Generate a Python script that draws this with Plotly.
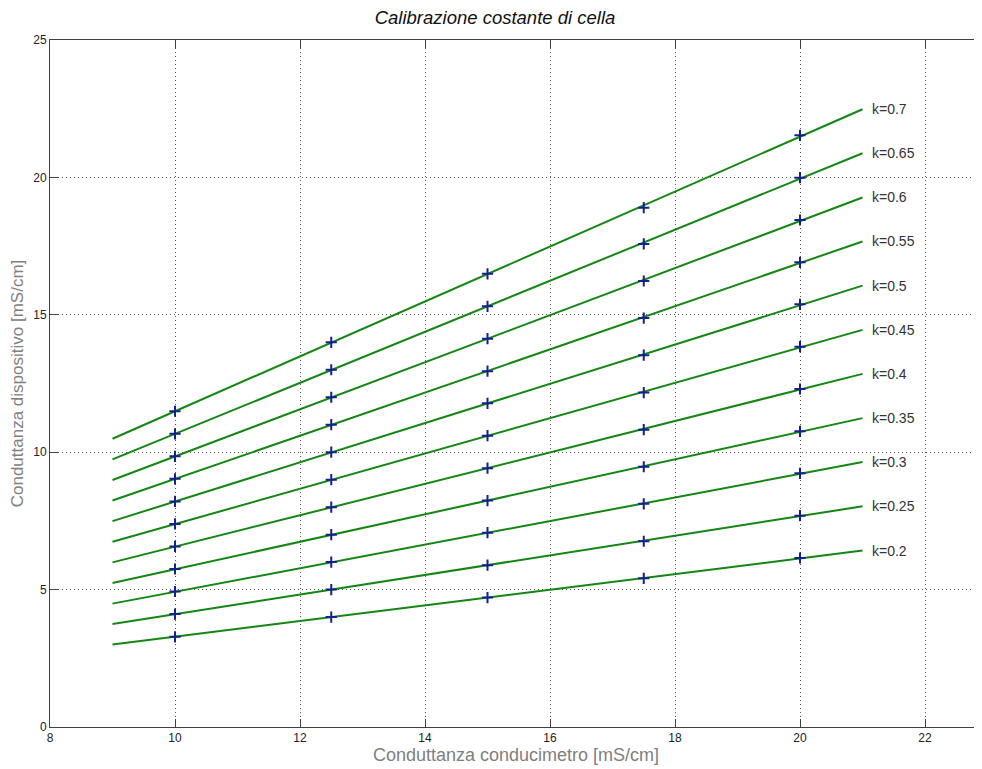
import plotly.graph_objects as go

# ---- data ----
k_values = [0.2, 0.25, 0.3, 0.35, 0.4, 0.45, 0.5, 0.55, 0.6, 0.65, 0.7]
k_labels = ["k=0.2", "k=0.25", "k=0.3", "k=0.35", "k=0.4", "k=0.45",
            "k=0.5", "k=0.55", "k=0.6", "k=0.65", "k=0.7"]

# measured points (conducimetro vs dispositivo)
x_meas = [10, 12.5, 15, 17.5, 20]
y_k020 = [3.28, 4.00, 4.71, 5.41, 6.15]
y_k025 = [4.11, 5.00, 5.89, 6.76, 7.69]
y_k030 = [4.93, 6.00, 7.07, 8.12, 9.23]
y_k035 = [5.75, 7.00, 8.24, 9.47, 10.76]
y_k040 = [6.57, 8.00, 9.42, 10.82, 12.30]
y_k045 = [7.39, 9.00, 10.60, 12.17, 13.84]
y_k050 = [8.21, 10.00, 11.78, 13.53, 15.38]
y_k055 = [9.03, 11.00, 12.95, 14.88, 16.91]
y_k060 = [9.85, 12.00, 14.13, 16.23, 18.45]
y_k065 = [10.67, 13.00, 15.31, 17.58, 19.99]
y_k070 = [11.49, 14.00, 16.49, 18.90, 21.53]
y_meas = [y_k020, y_k025, y_k030, y_k035, y_k040, y_k045,
          y_k050, y_k055, y_k060, y_k065, y_k070]

# fitted calibration lines (endpoints)
x_fit = [9, 21]
y_fit_start = [3.00, 3.75, 4.49, 5.24, 5.99, 6.74, 7.49, 8.24, 8.99, 9.74, 10.49]
y_fit_end = [6.42, 8.03, 9.64, 11.24, 12.85, 14.45, 16.06, 17.67, 19.27, 20.88, 22.48]

x_ticks = [8, 10, 12, 14, 16, 18, 20, 22]
y_ticks = [0, 5, 10, 15, 20, 25]

LINE_COLOR = "#138613"
MARK_COLOR = "#14208c"
FONT = "Liberation Sans, Arial, sans-serif"

fig = go.Figure()

for i, k in enumerate(k_values):
    fig.add_trace(go.Scatter(
        x=x_fit, y=[y_fit_start[i], y_fit_end[i]],
        mode="lines", line=dict(color=LINE_COLOR, width=2),
        showlegend=False, hoverinfo="skip"))

for i, k in enumerate(k_values):
    fig.add_trace(go.Scatter(
        x=x_meas, y=y_meas[i], mode="markers",
        marker=dict(symbol="cross-thin", size=8,
                    line=dict(color=MARK_COLOR, width=2)),
        showlegend=False))

annotations = []
for i, lab in enumerate(k_labels):
    annotations.append(dict(
        x=x_fit[1], y=y_fit_end[i], xref="x", yref="y",
        text=lab, showarrow=False, xanchor="left", yanchor="middle",
        xshift=7, font=dict(family=FONT, size=14, color="#333333")))

# page body has an 8px margin, so the figure is sized to fit the window
fig.update_layout(
    width=974, height=761,
    paper_bgcolor="white", plot_bgcolor="white",
    margin=dict(l=42, r=0, t=32, b=42),
    title=dict(text="<i>Calibrazione costante di cella</i>",
               x=0.5, xanchor="center", y=0.988, yanchor="middle",
               font=dict(family=FONT, size=18.5, color="#111111")),
    annotations=annotations,
    font=dict(family=FONT, size=12, color="#222222"),
)

fig.update_xaxes(
    range=[8, 8 + 932 / 62.5],
    tickvals=x_ticks, ticktext=[str(v) for v in x_ticks],
    ticks="inside", ticklen=8, tickcolor="#404040",
    showline=True, linecolor="#404040", linewidth=1, mirror="ticks",
    showgrid=True, gridcolor="#555555", gridwidth=1, griddash="1px,3px",
    zeroline=False,
    tickfont=dict(family=FONT, size=12, color="#222222"),
    title=dict(text="Conduttanza conducimetro [mS/cm]",
               font=dict(family=FONT, size=18, color="#808080"), standoff=2),
)
fig.update_yaxes(
    range=[0, 25],
    tickvals=y_ticks, ticktext=[str(v) for v in y_ticks],
    ticks="inside", ticklen=8, tickcolor="#404040",
    showline=True, linecolor="#404040", linewidth=1, mirror=False,
    showgrid=True, gridcolor="#555555", gridwidth=1, griddash="1px,3px",
    zeroline=False,
    tickfont=dict(family=FONT, size=12, color="#222222"),
    title=dict(text="Conduttanza dispositivo [mS/cm]",
               font=dict(family=FONT, size=17, color="#808080"), standoff=5),
)

fig.write_html("out.html")
